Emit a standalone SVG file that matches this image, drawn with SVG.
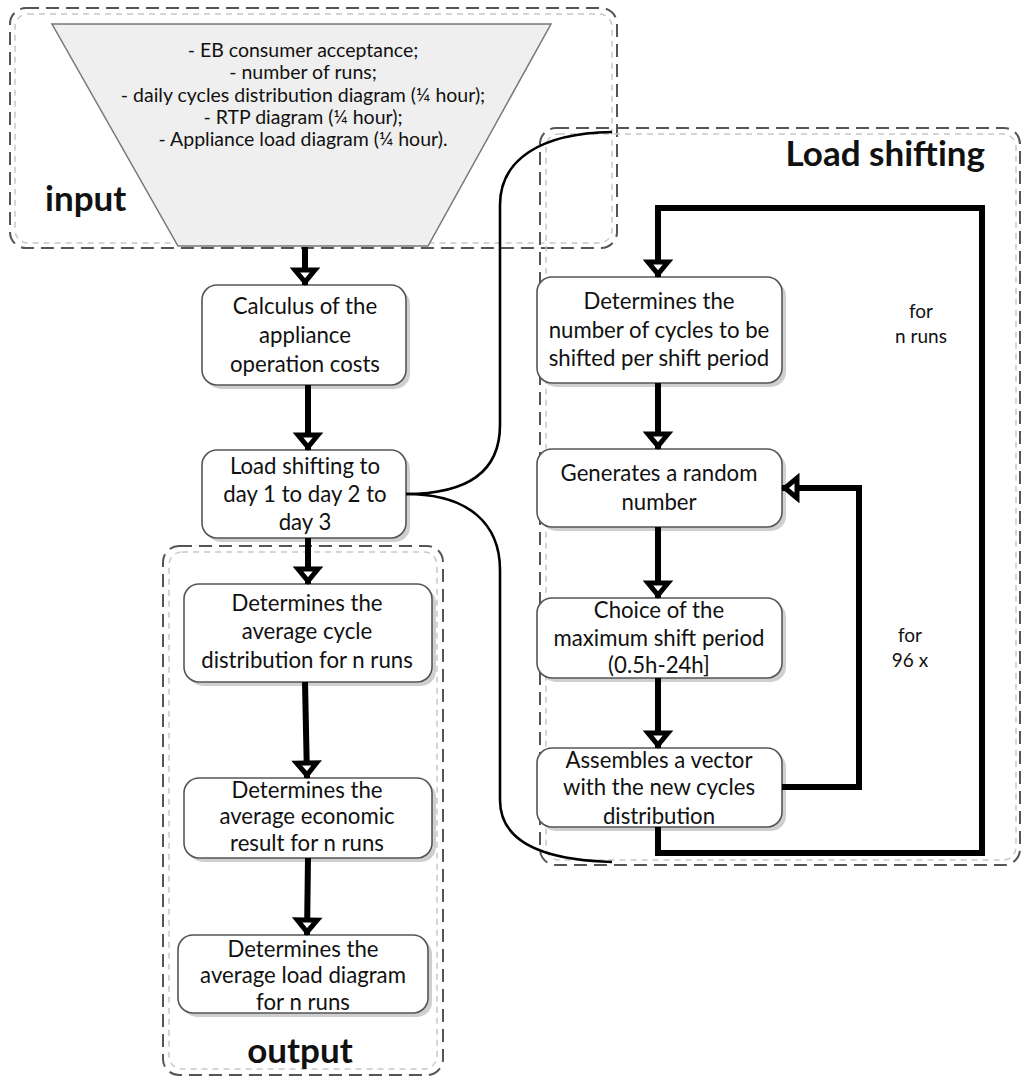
<svg xmlns="http://www.w3.org/2000/svg" width="1025" height="1080" viewBox="0 0 1025 1080">
<style>
.grp{fill:none;stroke:#555;stroke-width:2;stroke-dasharray:13 7}
.grpin{fill:none;stroke:#c8c8c8;stroke-width:1.5;stroke-dasharray:6 5}
.box{fill:#fff;stroke:#555;stroke-width:1.6}
.sh{fill:#cfcfcf}
.t{font-family:Lato,"Open Sans",sans-serif;font-size:22.2px;fill:#111;text-anchor:middle}
.ti{font-family:Lato,"Open Sans",sans-serif;font-size:19.5px;fill:#111;text-anchor:middle}
.lb{font-family:Lato,"Open Sans",sans-serif;font-size:19px;fill:#111;text-anchor:middle}
.big{font-family:Lato,"Open Sans",sans-serif;font-size:35px;font-weight:bold;fill:#111}
.c{fill:none;stroke:#000;stroke-width:6}
.cv{fill:none;stroke:#000;stroke-width:2.6}
</style>
<defs>
<marker id="ah" markerUnits="userSpaceOnUse" markerWidth="44" markerHeight="44" viewBox="-22 -22 44 44" refX="0" refY="0" orient="auto">
<path d="M-15,-10 L-3,0 L-15,10 Z" fill="#fff" stroke="#000" stroke-width="5" stroke-linejoin="miter"/>
</marker>
</defs>
<rect width="1025" height="1080" fill="#fff"/>

<g id="group-input">
<rect class="grp" x="10" y="8" width="607" height="240" rx="16"/>
<rect class="grpin" x="15" y="14" width="597" height="229" rx="13"/>
</g>
<g id="group-loadshifting">
<rect class="grp" x="540" y="128" width="480" height="737" rx="16"/>
<rect class="grpin" x="546" y="134" width="470" height="726" rx="13"/>
<text class="big" x="985" y="166" text-anchor="end">Load shifting</text>
</g>
<g id="group-output">
<rect class="grp" x="163" y="546" width="280" height="529" rx="16"/>
<rect class="grpin" x="169" y="552" width="268" height="517" rx="13"/>
<text class="big" x="300" y="1063" text-anchor="middle">output</text>
</g>

<g id="input">
<polygon points="52,24 551,24 428,246 178,246" fill="#efefef" stroke="#777" stroke-width="1.5"/>
<text class="ti" x="303" y="57">- EB consumer acceptance;</text>
<text class="ti" x="303" y="79">- number of runs;</text>
<text class="ti" x="303" y="102">- daily cycles distribution diagram (¼ hour);</text>
<text class="ti" x="303" y="124">- RTP diagram (¼ hour);</text>
<text class="ti" x="303" y="146">- Appliance load diagram (¼ hour).</text>
<text class="big" x="45" y="211">input</text>
</g>

<g id="calculus">
<rect class="sh" x="206" y="289" width="204" height="100" rx="15"/>
<rect class="box" x="202" y="285" width="204" height="100" rx="15"/>
<text class="t" x="305" y="314">Calculus of the</text>
<text class="t" x="305" y="343">appliance</text>
<text class="t" x="305" y="372">operation costs</text>
</g>

<g id="loadshift">
<rect class="sh" x="206" y="454" width="204" height="88" rx="15"/>
<rect class="box" x="202" y="450" width="204" height="88" rx="15"/>
<text class="t" x="305" y="474">Load shifting to</text>
<text class="t" x="305" y="502">day 1 to day 2 to</text>
<text class="t" x="305" y="530">day 3</text>
</g>

<g id="avg-cycle">
<rect class="sh" x="188" y="588" width="248" height="98" rx="15"/>
<rect class="box" x="184" y="584" width="248" height="98" rx="15"/>
<text class="t" x="307" y="611">Determines the</text>
<text class="t" x="307" y="639">average cycle</text>
<text class="t" x="307" y="668">distribution for n runs</text>
</g>

<g id="avg-econ">
<rect class="sh" x="188" y="782" width="248" height="80" rx="15"/>
<rect class="box" x="184" y="778" width="248" height="80" rx="15"/>
<text class="t" x="307" y="798">Determines the</text>
<text class="t" x="307" y="824">average economic</text>
<text class="t" x="307" y="851">result for n runs</text>
</g>

<g id="avg-load">
<rect class="sh" x="182" y="939" width="250" height="78" rx="15"/>
<rect class="box" x="178" y="935" width="250" height="78" rx="15"/>
<text class="t" x="303" y="957">Determines the</text>
<text class="t" x="303" y="983">average load diagram</text>
<text class="t" x="303" y="1010">for n runs</text>
</g>

<g id="num-cycles">
<rect class="sh" x="541" y="281" width="245" height="106" rx="15"/>
<rect class="box" x="537" y="277" width="245" height="106" rx="15"/>
<text class="t" x="659" y="309">Determines the</text>
<text class="t" x="659" y="338">number of cycles to be</text>
<text class="t" x="659" y="366">shifted per shift period</text>
</g>

<g id="random">
<rect class="sh" x="541" y="453" width="245" height="78" rx="15"/>
<rect class="box" x="537" y="449" width="245" height="78" rx="15"/>
<text class="t" x="659" y="481">Generates a random</text>
<text class="t" x="659" y="510">number</text>
</g>

<g id="choice">
<rect class="sh" x="541" y="602" width="245" height="80" rx="15"/>
<rect class="box" x="537" y="598" width="245" height="80" rx="15"/>
<text class="t" x="659" y="618">Choice of the</text>
<text class="t" x="659" y="646">maximum shift period</text>
<text class="t" x="659" y="673">(0.5h-24h]</text>
</g>

<g id="assemble">
<rect class="sh" x="541" y="752" width="245" height="79" rx="15"/>
<rect class="box" x="537" y="748" width="245" height="79" rx="15"/>
<text class="t" x="659" y="768">Assembles a vector</text>
<text class="t" x="659" y="795">with the new cycles</text>
<text class="t" x="659" y="824">distribution</text>
</g>

<g id="labels">
<text class="lb" x="921" y="318">for</text>
<text class="lb" x="921" y="343">n runs</text>
<text class="lb" x="910" y="642">for</text>
<text class="lb" x="910" y="667">96 x</text>
</g>

<g id="connectors">
<path class="c" d="M305,247 L305,285" marker-end="url(#ah)"/>
<path class="c" d="M308,385 L308,450" marker-end="url(#ah)"/>
<path class="c" d="M308,538 L308,584" marker-end="url(#ah)"/>
<path class="c" d="M305,682 L307,778" marker-end="url(#ah)"/>
<path class="c" d="M308,858 L307,935" marker-end="url(#ah)"/>
<path class="c" d="M658,383 L658,449" marker-end="url(#ah)"/>
<path class="c" d="M658,527 L658,598" marker-end="url(#ah)"/>
<path class="c" d="M658,678 L658,748" marker-end="url(#ah)"/>
<path class="c" d="M658,827 L658,853 L982,853 L982,208 L658,208 L658,277" marker-end="url(#ah)"/>
<path class="c" d="M782,787 L859,787 L859,488 L782,488" marker-end="url(#ah)"/>
<path class="cv" d="M406,494 C470,494 500,470 500,425 L500,205 C500,160 540,133 612,132"/>
<path class="cv" d="M406,494 C470,494 500,525 500,570 L500,800 C500,840 540,860 612,862"/>
</g>
</svg>
